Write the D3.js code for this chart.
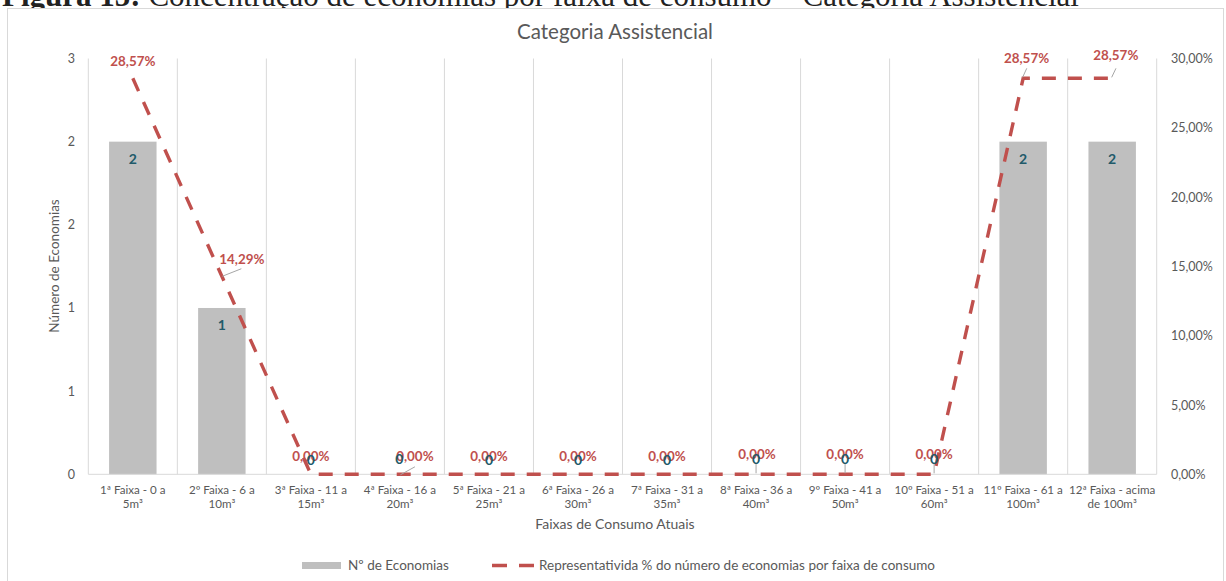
<!DOCTYPE html>
<html><head><meta charset="utf-8">
<script src="https://cdn.jsdelivr.net/npm/d3@7"></script>
<style>body{margin:0;background:#fff;} svg{display:block;}</style>
</head><body>
<svg id="c" width="1226" height="581"></svg>
<script>
// ---- data ----
const categories = [
  "1ª Faixa - 0 a|5m³", "2º Faixa - 6 a|10m³", "3ª Faixa - 11 a|15m³", "4ª Faixa - 16 a|20m³",
  "5ª Faixa - 21 a|25m³", "6ª Faixa - 26 a|30m³", "7ª Faixa - 31 a|35m³", "8ª Faixa - 36 a|40m³",
  "9º Faixa - 41 a|50m³", "10º Faixa - 51 a|60m³", "11º Faixa - 61 a|100m³", "12ª Faixa - acima|de 100m³"
];
const economias = [2, 1, 0, 0, 0, 0, 0, 0, 0, 0, 2, 2];
const percentual = [28.57, 14.29, 0, 0, 0, 0, 0, 0, 0, 0, 28.57, 28.57];
const leftTicks = [0, 0.5, 1, 1.5, 2, 2.5];
const leftTickLabels = ["0", "1", "1", "2", "2", "3"];
const rightTicks = [0, 5, 10, 15, 20, 25, 30];
const captionBold = "Figura 15:";
const captionText = " Concentração de economias por faixa de consumo – Categoria Assistencial";
const chartTitle = "Categoria Assistencial";
const yTitle = "Número de Economias";
const xTitle = "Faixas de Consumo Atuais";
const legendBar = "Nº de Economias";
const legendLine = "Representativida % do número de economias por faixa de consumo";

// ---- layout ----
const svg = d3.select("#c");
const FONT = "Lato, 'Open Sans', sans-serif";
const GRAY = "#595959", RED = "#c0504d", TEAL = "#215a6a", BARC = "#bfbfbf", GRID = "#d9d9d9";
const pL = 88.3, pR = 1156.7, pT = 58.5, pB = 474.3;

// caption (partly hidden above the chart)
const cap = svg.append("text").attr("x", 2).attr("y", 6)
  .attr("font-family", "'Liberation Serif', 'Times New Roman', serif").attr("font-size", 31).attr("fill", "#222");
cap.append("tspan").attr("font-weight", "bold").text(captionBold);
cap.append("tspan").text(captionText);

// chart frame
svg.append("rect").attr("x", 7.5).attr("y", 8.5).attr("width", 1216).attr("height", 640)
  .attr("fill", "#fff").attr("stroke", GRID).attr("stroke-width", 1);

const x = d3.scaleBand().domain(categories).range([pL, pR]).paddingInner(0).paddingOuter(0);
const xb = d3.scaleBand().domain(categories).range([pL, pR]).paddingInner(0.467).paddingOuter(0.2335);
const yL = d3.scaleLinear().domain([0, 2.5]).range([pB, pT]);
const yR = d3.scaleLinear().domain([0, 30]).range([pB, pT]);
const cx = c => x(c) + x.bandwidth() / 2;

// title
svg.append("text").attr("x", 615).attr("y", 32).attr("dy", "0.35em").attr("text-anchor", "middle")
  .attr("font-family", FONT).attr("font-size", 20.5).attr("fill", GRAY).text(chartTitle);

// vertical gridlines
const bounds = categories.map(c => x(c)).concat([pR]);
svg.append("g").selectAll("line").data(bounds).join("line")
  .attr("x1", d => d).attr("x2", d => d).attr("y1", pT).attr("y2", pB)
  .attr("stroke", GRID).attr("stroke-width", 1);

// bars
svg.append("g").selectAll("rect").data(categories.filter((c, i) => economias[i] > 0)).join("rect")
  .attr("x", c => xb(c)).attr("width", xb.bandwidth())
  .attr("y", c => yL(economias[categories.indexOf(c)]))
  .attr("height", c => pB - yL(economias[categories.indexOf(c)]))
  .attr("fill", BARC);

// baseline
svg.append("line").attr("x1", pL).attr("x2", pR).attr("y1", pB).attr("y2", pB)
  .attr("stroke", GRID).attr("stroke-width", 1);

// left axis
const axL = d3.axisLeft(yL).tickValues(leftTicks).tickSize(0).tickPadding(0)
  .tickFormat((d, i) => leftTickLabels[i]);
const gL = svg.append("g").attr("transform", `translate(75,0)`).call(axL);
gL.select(".domain").remove();
gL.selectAll("text").attr("font-family", FONT).attr("font-size", 12.5).attr("fill", GRAY);

// right axis
const fmtPct = d => d3.format(".2f")(d).replace(".", ",") + "%";
const axR = d3.axisRight(yR).tickValues(rightTicks).tickSize(0).tickPadding(0).tickFormat(fmtPct);
const gR = svg.append("g").attr("transform", `translate(1171,0)`).call(axR);
gR.select(".domain").remove();
gR.selectAll("text").attr("font-family", FONT).attr("font-size", 12.5).attr("fill", GRAY);

// bottom axis (two-line labels)
const axB = d3.axisBottom(x).tickSize(0).tickPadding(0).tickFormat("");
const gB = svg.append("g").attr("transform", `translate(0,${pB})`).call(axB);
gB.select(".domain").remove();
gB.selectAll(".tick").each(function (d) {
  const t = d3.select(this).append("text").attr("text-anchor", "middle")
    .attr("font-family", FONT).attr("font-size", 11.6).attr("fill", GRAY);
  d.split("|").forEach((s, i) => {
    t.append("tspan").attr("x", 0).attr("y", 15.7 + i * 13.6).attr("dy", "0.35em").text(s);
  });
});

// axis titles
svg.append("text").attr("transform", `translate(54,266) rotate(-90)`).attr("dy", "0.35em")
  .attr("text-anchor", "middle").attr("font-family", FONT).attr("font-size", 13.5).attr("fill", GRAY).text(yTitle);
svg.append("text").attr("x", 615).attr("y", 524).attr("dy", "0.35em")
  .attr("text-anchor", "middle").attr("font-family", FONT).attr("font-size", 14).attr("fill", GRAY).text(xTitle);

// line series
const line = d3.line().x((d, i) => cx(categories[i])).y(d => yR(d));
svg.append("path").datum(percentual).attr("d", line).attr("fill", "none")
  .attr("stroke", RED).attr("stroke-width", 3.4).attr("stroke-dasharray", "14,12");

// label offsets (dx, dy from point to label centre)
const pctOffsets = [[0, -16.6], [20, -16.5], [0, -17.6], [15, -17.6], [0, -17.6], [0, -17.6], [0, -17.6],
  [1, -20.3], [0, -20.3], [0, -20.3], [3.4, -20], [3.6, -23.3]];
const barLabelDy = [17.4, 17.4, -14.5, -15, -14.5, -14.5, -14.5, -15.5, -15.5, -15.5, 17.4, 17.4];

// leader lines
const leaders = [];
percentual.forEach((v, i) => {
  const px = cx(categories[i]), py = yR(v);
  const [dx, dy] = pctOffsets[i];
  if (i === 1) leaders.push([px + 0.5, py, px + dx - 0.5, py - 7.5]);
  if (i === 3) leaders.push([px + 0.5, py + 0.5, px + dx, py - 7.5]);
  if (i >= 10) leaders.push([px - 0.5, py - 1, px + dx + 0.2, py - 10]);
});
economias.forEach((v, i) => {
  if (i >= 7 && i <= 9) {
    const px = cx(categories[i]);
    leaders.push([px, yL(v) - 11, px, yL(v) - 1]);
  }
});
svg.append("g").selectAll("line").data(leaders).join("line")
  .attr("x1", d => d[0]).attr("y1", d => d[1]).attr("x2", d => d[2]).attr("y2", d => d[3])
  .attr("stroke", "#a6a6a6").attr("stroke-width", 1);

// percent labels
svg.append("g").selectAll("text").data(percentual).join("text")
  .attr("x", (d, i) => cx(categories[i]) + pctOffsets[i][0])
  .attr("y", (d, i) => yR(d) + pctOffsets[i][1]).attr("dy", "0.35em")
  .attr("text-anchor", "middle").attr("font-family", FONT).attr("font-weight", "bold")
  .attr("font-size", 13.4).attr("fill", RED).text(fmtPct);

// bar labels
svg.append("g").selectAll("text").data(economias).join("text")
  .attr("x", (d, i) => cx(categories[i]) - (i === 3 ? 0.5 : 0))
  .attr("y", (d, i) => yL(d) + barLabelDy[i]).attr("dy", "0.35em")
  .attr("text-anchor", "middle").attr("font-family", FONT).attr("font-weight", "bold")
  .attr("font-size", 14).attr("fill", TEAL).text(d => d);

// legend
const lg = svg.append("g");
lg.append("rect").attr("x", 302).attr("y", 562).attr("width", 39).attr("height", 7).attr("fill", BARC);
lg.append("text").attr("x", 348).attr("y", 565.5).attr("dy", "0.35em").attr("font-family", FONT)
  .attr("font-size", 13.5).attr("fill", GRAY).text(legendBar);
lg.append("line").attr("x1", 492).attr("x2", 534).attr("y1", 565.5).attr("y2", 565.5)
  .attr("stroke", RED).attr("stroke-width", 3.4).attr("stroke-dasharray", "15,12");
lg.append("text").attr("x", 539).attr("y", 565.5).attr("dy", "0.35em").attr("font-family", FONT)
  .attr("font-size", 13.5).attr("fill", GRAY).text(legendLine);
</script>
</body></html>
